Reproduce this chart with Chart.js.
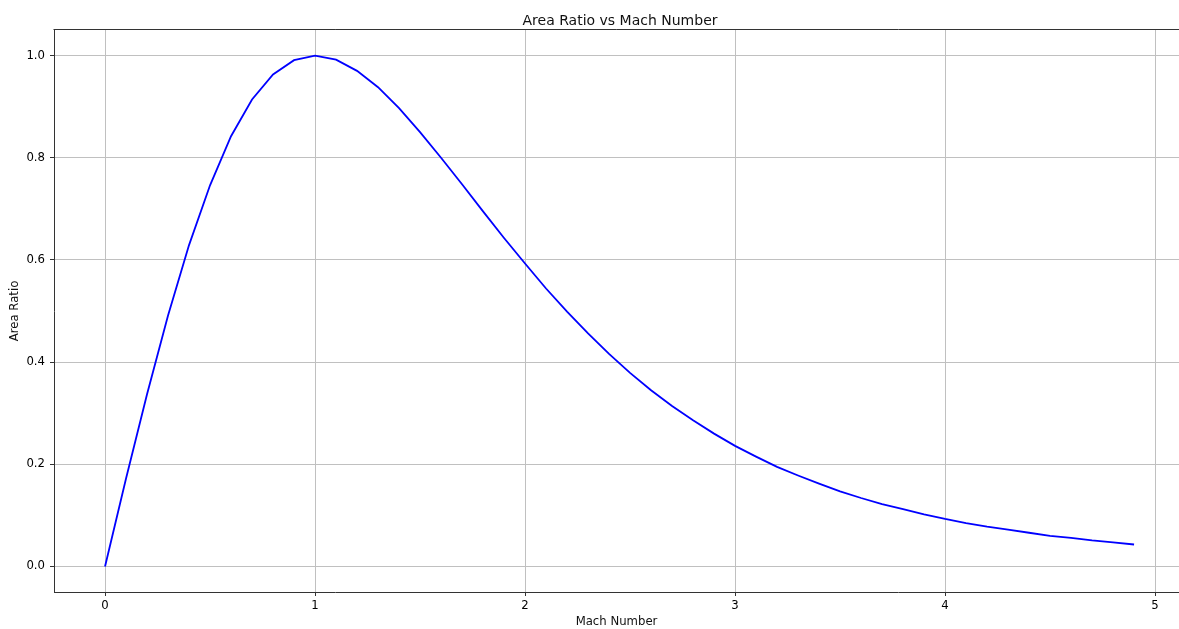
<!DOCTYPE html>
<html>
<head>
<meta charset="utf-8">
<script src="https://cdn.jsdelivr.net/npm/chart.js@4.4.1/dist/chart.umd.min.js"></script>
<style>
  html, body { margin: 0; padding: 0; background: #ffffff; overflow: hidden; width: 1179px; height: 629px; }
</style>
</head>
<body>
<canvas id="c" width="1179" height="629"></canvas>
<script>
const machNumbers = [0.0, 0.1, 0.2, 0.3, 0.4, 0.5, 0.6, 0.7, 0.8, 0.9,
  1.0, 1.1, 1.2, 1.3, 1.4, 1.5, 1.6, 1.7, 1.8, 1.9,
  2.0, 2.1, 2.2, 2.3, 2.4, 2.5, 2.6, 2.7, 2.8, 2.9,
  3.0, 3.1, 3.2, 3.3, 3.4, 3.5, 3.6, 3.7, 3.8, 3.9,
  4.0, 4.1, 4.2, 4.3, 4.4, 4.5, 4.6, 4.7, 4.8, 4.9];
const areaRatios = [0.000, 0.172, 0.337, 0.491, 0.629, 0.746, 0.842, 0.914, 0.963, 0.991,
  1.000, 0.992, 0.970, 0.938, 0.897, 0.850, 0.800, 0.748, 0.695, 0.643,
  0.593, 0.544, 0.499, 0.456, 0.416, 0.379, 0.345, 0.314, 0.286, 0.260,
  0.236, 0.215, 0.195, 0.178, 0.162, 0.147, 0.134, 0.122, 0.112, 0.102,
  0.093, 0.085, 0.078, 0.072, 0.066, 0.060, 0.056, 0.051, 0.047, 0.043];
const xTickValues = [0, 1, 2, 3, 4, 5];
const xTickLabels = ['0', '1', '2', '3', '4', '5'];
const yTickValues = [0.0, 0.2, 0.4, 0.6, 0.8, 1.0];
const yTickLabels = ['0.0', '0.2', '0.4', '0.6', '0.8', '1.0'];
const chartTitle = 'Area Ratio vs Mach Number';

const FONT = 'DejaVu Sans';
// top spine + title (the figure's axes box is centred at x=620, its right edge lies past the image edge)
const frame = {
  id: 'frame',
  afterDatasetsDraw(chart) {
    const a = chart.chartArea, ctx = chart.ctx;
    ctx.save();
    ctx.strokeStyle = '#333333';
    ctx.lineWidth = 1;
    ctx.beginPath();
    ctx.moveTo(Math.round(a.left) - 0.5, Math.round(a.top) - 0.5);
    ctx.lineTo(chart.width + 2, Math.round(a.top) - 0.5);
    ctx.stroke();
    ctx.restore();
  },
  afterDraw(chart) {
    const ctx = chart.ctx;
    ctx.save();
    ctx.fillStyle = '#111111';
    ctx.font = '14px "' + FONT + '"';
    ctx.textAlign = 'center';
    ctx.textBaseline = 'alphabetic';
    ctx.fillText(chartTitle, 620, 24.5);
    ctx.restore();
  }
};

new Chart(document.getElementById('c'), {
  type: 'line',
  data: {
    datasets: [{
      data: machNumbers.map((m, i) => ({ x: m, y: areaRatios[i] })),
      borderColor: '#0000ff',
      borderWidth: 1.8,
      pointRadius: 0,
      tension: 0,
      fill: false
    }]
  },
  options: {
    responsive: false,
    animation: false,
    devicePixelRatio: 1,
    layout: { padding: { left: 0, right: 0, top: 30, bottom: 0 } },
    plugins: {
      legend: { display: false },
      tooltip: { enabled: false },
      title: { display: false }
    },
    scales: {
      x: {
        type: 'linear',
        min: -0.243,
        max: 5.114,
        afterBuildTicks: s => { s.ticks = xTickValues.map(v => ({ value: v })); },
        afterFit: s => { s.height = 37; },
        ticks: {
          callback: (v, i) => xTickLabels[i],
          color: '#000000',
          font: { family: FONT, size: 11.7 },
          padding: 3,
          maxRotation: 0,
          autoSkip: false
        },
        grid: { color: '#c0c0c0', lineWidth: 1, tickLength: 4, tickColor: '#333333', drawTicks: true },
        border: { display: true, color: '#333333', width: 1 },
        title: {
          display: true,
          text: 'Mach Number',
          color: '#111111',
          font: { family: FONT, size: 11.7 },
          padding: { top: 0, bottom: 0 }
        }
      },
      y: {
        type: 'linear',
        min: -0.05,
        max: 1.05,
        afterBuildTicks: s => { s.ticks = yTickValues.map(v => ({ value: v })); },
        afterFit: s => { s.width = 54; },
        ticks: {
          callback: (v, i) => yTickLabels[i],
          color: '#000000',
          font: { family: FONT, size: 11.7 },
          padding: 5,
          autoSkip: false
        },
        grid: { color: '#c0c0c0', lineWidth: 1, tickLength: 4, tickColor: '#333333', drawTicks: true },
        border: { display: true, color: '#333333', width: 1 },
        title: {
          display: true,
          text: 'Area Ratio',
          color: '#111111',
          font: { family: FONT, size: 11.7 },
          padding: { top: 8, bottom: 0 }
        }
      }
    }
  },
  plugins: [frame]
});
</script>
</body>
</html>
